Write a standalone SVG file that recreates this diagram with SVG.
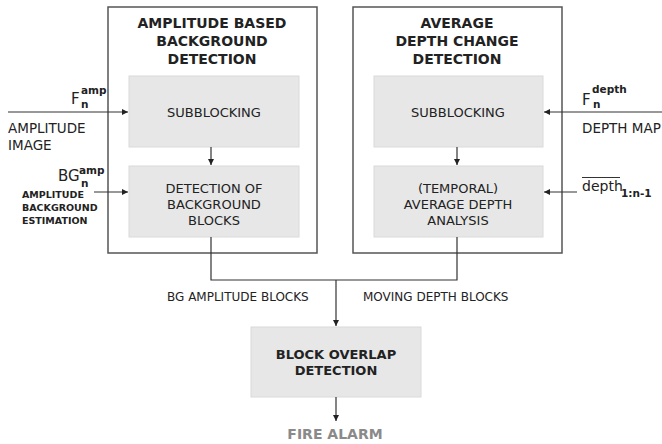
<svg xmlns="http://www.w3.org/2000/svg" width="662" height="444" viewBox="0 0 662 444">
<style>
text{font-family:"DejaVu Sans","Liberation Sans",sans-serif;fill:#222}
.t{font-size:14px;font-weight:bold;text-anchor:middle}
.b{font-size:13px;text-anchor:middle}
.l{font-size:13.5px}
.s{font-size:12px}
.sm{font-size:9.5px;font-weight:bold}
.big{font-size:15px}
.sc{font-size:10.5px;font-weight:bold}
.outer{fill:#fff;stroke:#555;stroke-width:1.5}
.gray{fill:#e7e7e7;stroke:#dadada;stroke-width:1}
.c{fill:none;stroke:#333;stroke-width:1.2}
</style>
<defs>
<marker id="ah" markerUnits="userSpaceOnUse" markerWidth="7" markerHeight="6" refX="6" refY="3" orient="auto">
<path d="M0,0 L6,3 L0,6 z" fill="#222"/>
</marker>
</defs>
<rect width="662" height="444" fill="#fff"/>
<g id="amp-box">
<rect class="outer" x="108" y="7" width="209" height="246"/>
<text class="t" x="212" y="28">AMPLITUDE BASED</text>
<text class="t" x="212" y="46">BACKGROUND</text>
<text class="t" x="212" y="64">DETECTION</text>
</g>
<g id="depth-box">
<rect class="outer" x="353" y="7" width="209" height="246"/>
<text class="t" x="457" y="28">AVERAGE</text>
<text class="t" x="457" y="46">DEPTH CHANGE</text>
<text class="t" x="457" y="64">DETECTION</text>
</g>
<g id="amp-subblocking">
<rect class="gray" x="129" y="76" width="170" height="71"/>
<text class="b" x="214" y="117">SUBBLOCKING</text>
</g>
<g id="bg-detection">
<rect class="gray" x="129" y="166" width="170" height="71"/>
<text class="b" x="214" y="193">DETECTION OF</text>
<text class="b" x="214" y="209">BACKGROUND</text>
<text class="b" x="214" y="225">BLOCKS</text>
</g>
<g id="depth-subblocking">
<rect class="gray" x="374" y="76" width="169" height="71"/>
<text class="b" x="458" y="117">SUBBLOCKING</text>
</g>
<g id="depth-analysis">
<rect class="gray" x="374" y="166" width="169" height="71"/>
<text class="b" x="458" y="193">(TEMPORAL)</text>
<text class="b" x="458" y="209">AVERAGE DEPTH</text>
<text class="b" x="458" y="225">ANALYSIS</text>
</g>
<g id="overlap">
<rect class="gray" x="251" y="327" width="170" height="70"/>
<text class="t" style="font-size:13px" x="336" y="359">BLOCK OVERLAP</text>
<text class="t" style="font-size:13px" x="336" y="375">DETECTION</text>
</g>
<g id="fire-alarm">
<text class="t" x="335" y="439" style="fill:#8a8a8a">FIRE ALARM</text>
</g>
<g id="amp-input">
<text class="big" x="71" y="104">F</text>
<text class="sc" x="81" y="94">amp</text>
<text class="sc" x="81" y="108">n</text>
<text class="l" x="8" y="133">AMPLITUDE</text>
<text class="l" x="8" y="150">IMAGE</text>
</g>
<g id="bg-input">
<text class="big" x="58" y="181">BG</text>
<text class="sc" x="79" y="174">amp</text>
<text class="sc" x="81" y="187">n</text>
<text class="sm" x="22" y="198">AMPLITUDE</text>
<text class="sm" x="22" y="211">BACKGROUND</text>
<text class="sm" x="22" y="224">ESTIMATION</text>
</g>
<g id="depth-input">
<text class="big" x="582" y="105">F</text>
<text class="sc" x="592" y="93">depth</text>
<text class="sc" x="593" y="108">n</text>
<text class="l" x="582" y="133">DEPTH MAP</text>
</g>
<g id="prev-depth-input">
<line x1="582" y1="177.5" x2="620" y2="177.5" stroke="#333" stroke-width="1.2"/>
<text x="582" y="191" style="font-size:14px">depth</text>
<text class="sc" x="621" y="197">1:n-1</text>
</g>
<g id="connectors">
<line class="c" x1="8" y1="112" x2="128" y2="112" marker-end="url(#ah)"/>
<line class="c" x1="94" y1="192" x2="128" y2="192" marker-end="url(#ah)"/>
<line class="c" x1="662" y1="112" x2="544" y2="112" marker-end="url(#ah)"/>
<line class="c" x1="577" y1="192" x2="544" y2="192" marker-end="url(#ah)"/>
<line class="c" x1="211" y1="147" x2="211" y2="165" marker-end="url(#ah)"/>
<line class="c" x1="457" y1="147" x2="457" y2="165" marker-end="url(#ah)"/>
<polyline class="c" points="211,237 211,280 457,280 457,237"/>
<line class="c" x1="336" y1="280" x2="336" y2="326" marker-end="url(#ah)"/>
<line class="c" x1="336" y1="397" x2="336" y2="421" marker-end="url(#ah)"/>
</g>
<g id="edge-labels">
<text class="s" x="167" y="301">BG AMPLITUDE BLOCKS</text>
<text class="s" x="363" y="301">MOVING DEPTH BLOCKS</text>
</g>
</svg>
